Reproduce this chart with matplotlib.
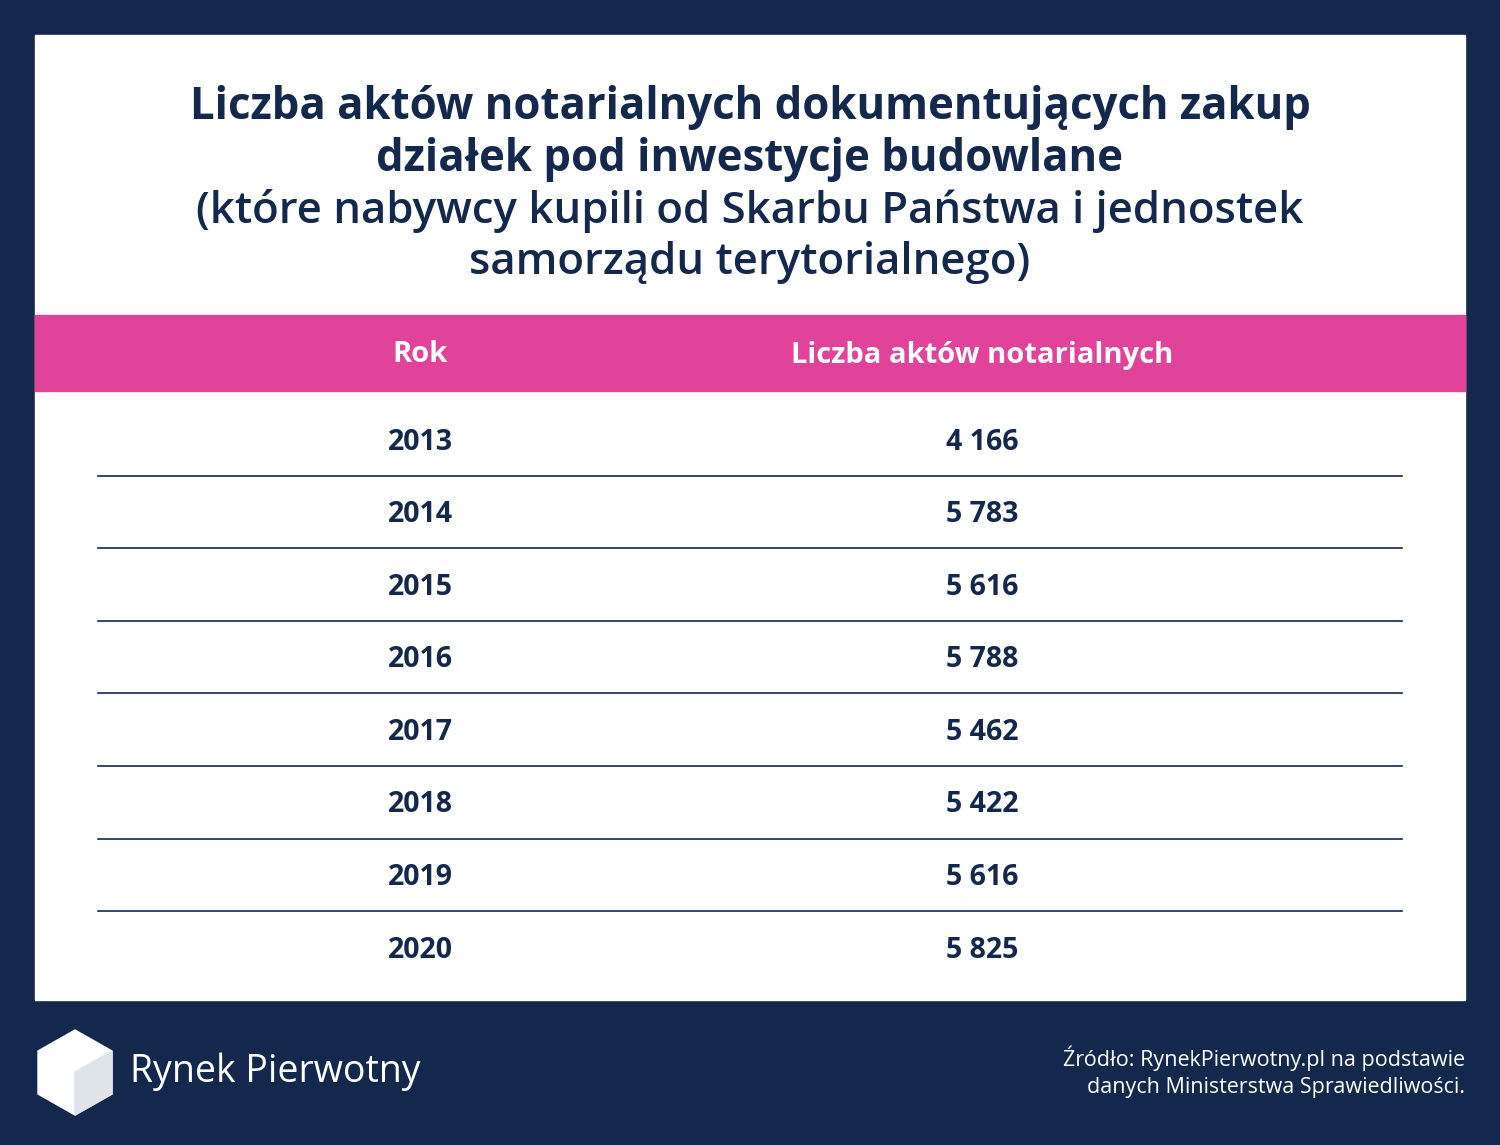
import matplotlib.pyplot as plt
from matplotlib.patches import Rectangle, Polygon

years = ["2013", "2014", "2015", "2016", "2017", "2018", "2019", "2020"]
counts = [4166, 5783, 5616, 5788, 5462, 5422, 5616, 5825]

navy = "#13284c"
pink = "#e2439a"
title_lines = [
    ("Liczba aktów notarialnych dokumentujących zakup", "bold"),
    ("działek pod inwestycje budowlane", "bold"),
    ("(które nabywcy kupili od Skarbu Państwa i jednostek", "semibold"),
    ("samorządu terytorialnego)", "semibold"),
]
FONT = "Open Sans"

def fmt(v):
    return f"{v:,}".replace(",", " ")

fig = plt.figure(figsize=(15, 11.45), dpi=100)
fig.patch.set_facecolor(navy)
ax = fig.add_axes([0, 0, 1, 1])
ax.set_xlim(0, 1500)
ax.set_ylim(1145, 0)
ax.axis("off")

ax.add_patch(Rectangle((35, 35), 1430, 965, color="white"))
ax.add_patch(Rectangle((35, 315), 1430, 76, color=pink))

for i, (line, w) in enumerate(title_lines):
    ax.text(750, 107 + i * 52, line, ha="center", va="center", fontsize=31.5,
            fontweight=w, color=navy, family=FONT)

ax.text(420, 355, "Rok", ha="center", va="center", fontsize=21,
        fontweight="bold", color="white", family=FONT)
ax.text(982, 355, "Liczba aktów notarialnych", ha="center", va="center",
        fontsize=21, fontweight="bold", color="white", family=FONT)

step = 72.6
for i, (y, c) in enumerate(zip(years, counts)):
    yc = 440 + i * step
    ax.text(420, yc + 2, y, ha="center", va="center", fontsize=20.5,
            fontweight="bold", color=navy, family=FONT)
    ax.text(982, yc + 2, fmt(c), ha="center", va="center", fontsize=20.5,
            fontweight="bold", color=navy, family=FONT)
    if i < len(years) - 1:
        ax.plot([98, 1402], [yc + 35.5, yc + 35.5], color=navy, lw=1.2)

# logo
ax.add_patch(Polygon([(75, 1030), (112, 1051), (112, 1094), (75, 1115),
                      (38, 1094), (38, 1051)], color="white"))
ax.add_patch(Polygon([(75, 1072), (112, 1051), (112, 1094), (75, 1115)],
                     color="#dfe3ea"))
ax.text(130, 1072, "Rynek Pierwotny", ha="left", va="center", fontsize=27,
        color="white", family=FONT)

ax.text(1465, 1058, "Źródło: RynekPierwotny.pl na podstawie", ha="right",
        va="center", fontsize=15.5, color="white", family=FONT)
ax.text(1465, 1087, "danych Ministerstwa Sprawiedliwości.", ha="right",
        va="center", fontsize=15.5, color="white", family=FONT)

fig.savefig("out.png", facecolor=navy)
